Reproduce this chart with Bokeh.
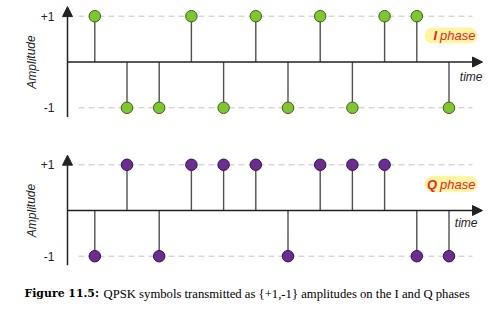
from bokeh.plotting import figure
from bokeh.models import Range1d, Arrow, NormalHead
from bokeh.core.properties import value
from bokeh.embed import file_html
from bokeh.resources import INLINE

# ---- data ----
symbols = list(range(12))
i_phase = [1, -1, -1, 1, -1, 1, -1, 1, -1, 1, 1, -1]
q_phase = [-1, 1, -1, 1, 1, 1, -1, 1, 1, 1, -1, -1]
tick_values = [1, -1]
tick_labels = ["+1", "-1"]
caption_bold = "Figure 11.5:"
caption_text = "QPSK symbols transmitted as {+1,-1} amplitudes on the I and Q phases"

# ---- layout helpers (pixel -> data) ----
W, H = 492, 311
X0, DX = 94.3, 32.2
def X(px):
    return (px - X0) / DX
def YI(py):
    return 1 - 2 * (py - 15.7) / 91.6
def YQ(py):
    return 1 - 2 * (py - 164.3) / 91.4

p = figure(width=W, height=H, x_range=Range1d(X(0), X(W)), y_range=Range1d(YI(H), YI(0)),
           x_axis_location=None, y_axis_location=None, toolbar_location=None,
           output_backend="svg", min_border=0)
p.extra_y_ranges = {"q": Range1d(YQ(H), YQ(0))}
p.grid.visible = False
p.outline_line_color = None
p.background_fill_color = "white"
p.border_fill_color = "white"

SANS = value("Liberation Sans")
SERIF = value("Liberation Serif")
AXC = "#222222"
panels = [
    (i_phase, "default", YI, "#7fc631", "#3f5e1d", "I", 35, 76, 482),
    (q_phase, "q", YQ, "#6b2d90", "#35124a", "Q", 183.5, 222.7, 477),
]
for vals, rn, Yf, fc, lc, name, lab_y, time_y, time_r in panels:
    # dashed reference lines at +1 / -1
    for tv in tick_values:
        p.segment(x0=[X(78)], y0=[tv], x1=[X(472)], y1=[tv], line_color="#c4c4c4",
                  line_width=1, line_dash="6 4", y_range_name=rn)
    # axes with arrows
    p.add_layout(Arrow(end=NormalHead(size=10, fill_color=AXC, line_color=AXC, line_width=1),
                       x_start=X(67), y_start=0, x_end=X(482), y_end=0,
                       line_color=AXC, line_width=1.5, y_range_name=rn))
    p.add_layout(Arrow(end=NormalHead(size=10, fill_color=AXC, line_color=AXC, line_width=1),
                       x_start=X(67), y_start=-1.2, x_end=X(67), y_end=1.21,
                       line_color=AXC, line_width=1.5, y_range_name=rn))
    # stems and markers
    p.segment(x0=symbols, y0=[0] * len(symbols), x1=symbols, y1=vals,
              line_color="#505050", line_width=1.4, y_range_name=rn)
    p.scatter(symbols, vals, size=11.5, fill_color=fc, line_color=lc, line_width=1,
              y_range_name=rn)
    # tick labels
    p.text(x=[X(54)] * len(tick_values), y=tick_values, text=tick_labels,
           text_font=SANS, text_font_size="12px", text_color=AXC,
           text_align="right", text_baseline="middle", y_range_name=rn)
    # Amplitude label
    p.text(x=[X(31)], y=[0], text=["Amplitude"], angle=1.5708,
           text_font=SANS, text_font_size="12px", text_font_style="italic",
           text_color=AXC, text_align="center", text_baseline="middle", y_range_name=rn)
    # time label
    p.text(x=[X(time_r)], y=[Yf(time_y)], text=["time"],
           text_font=SANS, text_font_size="12px", text_font_style="italic",
           text_color=AXC, text_align="right", text_baseline="middle", y_range_name=rn)
    # phase pill
    pl, pr = 424, 477
    p.rect(x=[X((pl + pr) / 2)], y=[Yf(lab_y)], width=(pr - pl - 16) / DX, height=16,
           height_units="screen", fill_color="#fff5a3", line_color=None, y_range_name=rn)
    p.scatter([X(pl + 8), X(pr - 8)], [Yf(lab_y)] * 2, size=16, fill_color="#fff5a3",
              line_color=None, y_range_name=rn)
    p.text(x=[X(436.5)], y=[Yf(lab_y)], text=[name], text_font=SANS, text_font_size="13px",
           text_font_style="bold italic", text_color="#e3262b", text_align="right",
           text_baseline="middle", y_range_name=rn)
    p.text(x=[X(439.5)], y=[Yf(lab_y)], text=["phase"], text_font=SANS, text_font_size="13px",
           text_font_style="italic", text_color="#e3262b", text_align="left",
           text_baseline="middle", y_range_name=rn)

# caption
p.text(x=[X(24)], y=[YI(293)], text=[caption_bold], text_font=value("DejaVu Serif"),
       text_font_size="10.9px", text_font_style="bold", text_color="#000000",
       text_align="left", text_baseline="middle")
p.text(x=[X(103)], y=[YI(293)], text=[caption_text], text_font=SERIF, text_font_size="12.7px",
       text_color="#000000", text_align="left", text_baseline="middle")

open("out.html", "w").write(file_html(p, INLINE))
